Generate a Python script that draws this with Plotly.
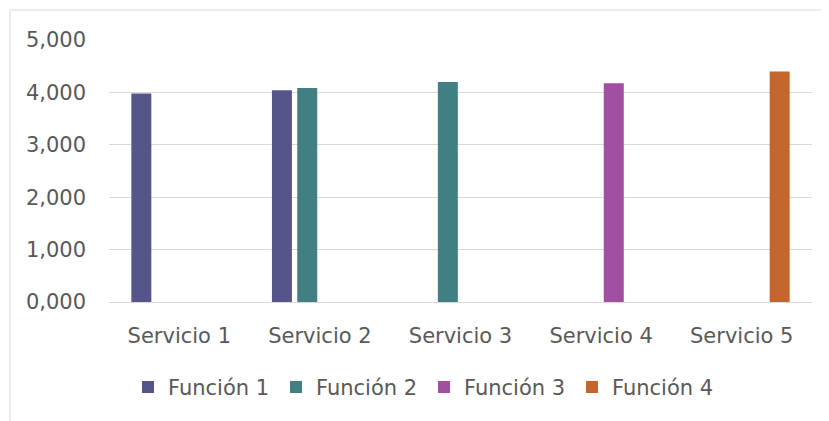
import plotly.graph_objects as go

categories = ["Servicio 1", "Servicio 2", "Servicio 3", "Servicio 4", "Servicio 5"]
series_names = ["Función 1", "Función 2", "Función 3", "Función 4"]
funcion1 = [3.977, 4.040, None, None, None]
funcion2 = [None, 4.084, 4.198, None, None]
funcion3 = [None, None, None, 4.173, None]
funcion4 = [None, None, None, None, 4.401]
colors = ["#55558A", "#417F82", "#A14FA1", "#C4652D"]
y_ticks = [0, 1, 2, 3, 4, 5]

fig = go.Figure()
for name, vals, col in zip(series_names, [funcion1, funcion2, funcion3, funcion4], colors):
    fig.add_trace(go.Bar(x=categories, y=vals, name=name, marker_color=col,
                         marker_line_width=0))

# page body has an 8px margin; work in window coordinates and shift
OFF = 8
W, H = 829 - OFF, 421 - OFF
L, T = 109 - OFF, 40 - OFF
R = 829 - 812
B = 421 - 302.5
pw, ph = W - L - R, H - T - B

fig.update_layout(
    width=W, height=H,
    margin=dict(l=L, r=R, t=T, b=B),
    barmode="group", bargap=0.28, bargroupgap=0.21,
    paper_bgcolor="white", plot_bgcolor="white",
    separators=",.",
    font=dict(family="DejaVu Sans", size=21, color="#595959"),
    showlegend=True,
    legend=dict(orientation="h", x=(128 - 109) / pw, xanchor="left",
                y=(302.5 - 388) / ph, yanchor="middle",
                entrywidth=103, entrywidthmode="pixels",
                font=dict(size=21, color="#595959"), traceorder="normal"),
    xaxis=dict(showgrid=False, showline=False, ticks="", ticklabelstandoff=19,
               tickfont=dict(size=21, color="#595959")),
    yaxis=dict(range=[0, 5], tickvals=y_ticks, tickformat=".3f",
               showgrid=True, gridcolor="#D9D9D9", gridwidth=1.3,
               zeroline=True, zerolinecolor="#D9D9D9", zerolinewidth=1.3,
               showline=False, ticks="", ticklabelstandoff=22,
               tickfont=dict(size=21, color="#595959")),
    shapes=[dict(type="rect", xref="paper", yref="paper",
                 x0=(10 - 109) / pw, x1=(829 + 20 - 109) / pw,
                 y0=-(B + 20) / ph, y1=(302.5 - 10) / ph,
                 line=dict(color="#D9D9D9", width=1), fillcolor="rgba(0,0,0,0)",
                 layer="below")],
)

fig.write_html("out.html")
